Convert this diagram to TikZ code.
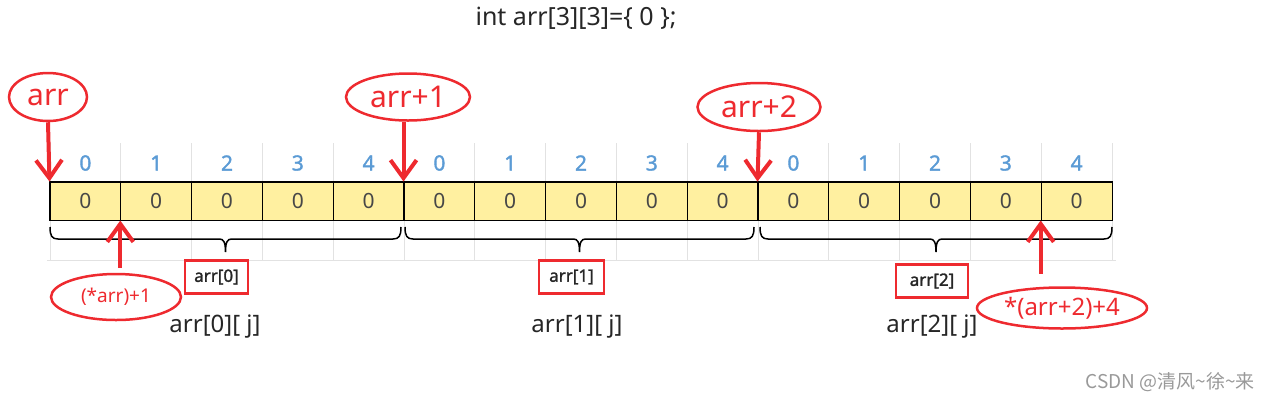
\documentclass[tikz,border=0pt]{standalone}
\usepackage{fontspec}
\setmainfont{Noto Sans}[AutoFakeBold=1.6]
\newfontfamily\cjkfont{Noto Sans CJK SC}
\usetikzlibrary{arrows.meta, positioning, shapes.geometric}
\definecolor{cellfill}{HTML}{FFF0A0}
\definecolor{idxblue}{HTML}{5B9BD5}
\definecolor{ptrred}{HTML}{EE2A2F}
\definecolor{gridgrey}{HTML}{E2E2E2}

\tikzset{
  cell/.style={draw=black, line width=1pt, fill=cellfill, minimum width=70.8pt,
    minimum height=38pt, inner sep=0pt, text=black!72, font=\fontsize{21}{21}\selectfont},
  idx/.style={text=idxblue, inner sep=0pt, font=\fontsize{21}{21}\selectfont\bfseries},
  ptrell/.style={ellipse, draw=ptrred, line width=2.5pt, text=ptrred, inner sep=0pt},
  ptr/.style={draw=ptrred, line width=4pt, -{Straight Barb[length=18pt, width=26pt]}},
  rowbox/.style={draw=ptrred, line width=2.5pt, inner sep=0pt, minimum height=33pt,
    font=\fontsize{17}{17}\selectfont\bfseries, text=black!85},
  rowlbl/.style={inner sep=0pt, text=black!85, font=\fontsize{24}{24}\selectfont},
  gridline/.style={draw=gridgrey, line width=1pt},
  bracepath/.style={draw=black, line width=1.5pt},
  wmark/.style={inner sep=0pt, text=black!40, font=\cjkfont\fontsize{19}{19}\selectfont}
}

\begin{document}
\begin{tikzpicture}[x=1pt, y=-1pt]
    \useasboundingbox (0,0) rectangle (1274,400);
    % background grid
    \foreach \i in {0,...,15}
        \draw[gridline] ({50+70.8*\i},143) -- ({50+70.8*\i},260);
    \draw[gridline] (47,260) -- (1116,260);

    \node[inner sep=0pt, text=black!85, font=\fontsize{25}{25}\selectfont] (title) at (576,18) {int arr[3][3]=\{ 0 \};};

    % cells and column indexes
    \foreach \i in {0,...,14} {
        \pgfmathtruncatemacro{\j}{mod(\i,5)}
        \node[cell] (c\i) at ({85.4+70.8*\i},201) {0};
        \node[idx] (i\i) at ({85.4+70.8*\i},163) {\j};
    }
    \draw[line width=1.8pt] (c0.north west) rectangle (c14.south east);
    \draw[line width=1.8pt] (c5.north west) -- (c5.south west);
    \draw[line width=1.8pt] (c10.north west) -- (c10.south west);

    % braces under the rows
    \foreach \xa/\xb in {50/401, 405/754, 760/1112} {
        \pgfmathsetmacro{\xm}{(\xa+\xb)/2}
        \draw[bracepath] (\xa,227) .. controls (\xa,236) and ({\xa+2},239) .. ({\xa+8},239)
            -- ({\xm-6},239) .. controls ({\xm-2},239) and (\xm,242) .. (\xm,252)
            .. controls (\xm,242) and ({\xm+2},239) .. ({\xm+6},239)
            -- ({\xb-8},239) .. controls ({\xb-2},239) and (\xb,236) .. (\xb,227);
    }

    % pointers
    \node[ptrell, minimum width=78pt, minimum height=48pt, font=\fontsize{30}{30}\selectfont] (arr) at (48,97) {arr};
    \node[ptrell, minimum width=124pt, minimum height=47pt, font=\fontsize{30}{30}\selectfont] (arr1) at (408,97) {arr+1};
    \node[ptrell, minimum width=123pt, minimum height=48pt, font=\fontsize{30}{30}\selectfont] (arr2) at (759,107) {arr+2};
    \node[ptrell, minimum width=130pt, minimum height=46pt, font=\fontsize{19}{19}\selectfont] (parr) at (116,297) {(*arr)+1};
    \node[ptrell, minimum width=170pt, minimum height=41pt, font=\fontsize{24}{24}\selectfont] (parr2) at (1062,308) {*(arr+2)+4};

    \draw[ptr] (arr.south) -- (c0.north west);
    \draw[ptr] (arr1.south -| c5.north west) -- (c5.north west);
    \draw[ptr] (arr2.south) -- (c10.north west);
    \coordinate (p1) at ([yshift=-47pt]c1.south west);
    \coordinate (p2) at ([yshift=-53pt]c14.south west);
    \draw[ptr] (p1) -- (c1.south west);
    \draw[ptr] (p2) -- (c14.south west);

    % row names
    \node[rowbox, minimum width=63pt] (b0) at (216.5,277) {arr[0]};
    \node[rowbox, minimum width=65pt] (b1) at (571.5,277) {arr[1]};
    \node[rowbox, minimum width=72pt] (b2) at (932,281) {arr[2]};
    \node[rowlbl] (r0) at (215,327) {arr[0][ j]};
    \node[rowlbl] (r1) at (577,327) {arr[1][ j]};
    \node[rowlbl] (r2) at (932,327) {arr[2][ j]};

    \node[wmark] (wm) at (1170,382) {CSDN @清风\textasciitilde 徐\textasciitilde 来};
\end{tikzpicture}
\end{document}
